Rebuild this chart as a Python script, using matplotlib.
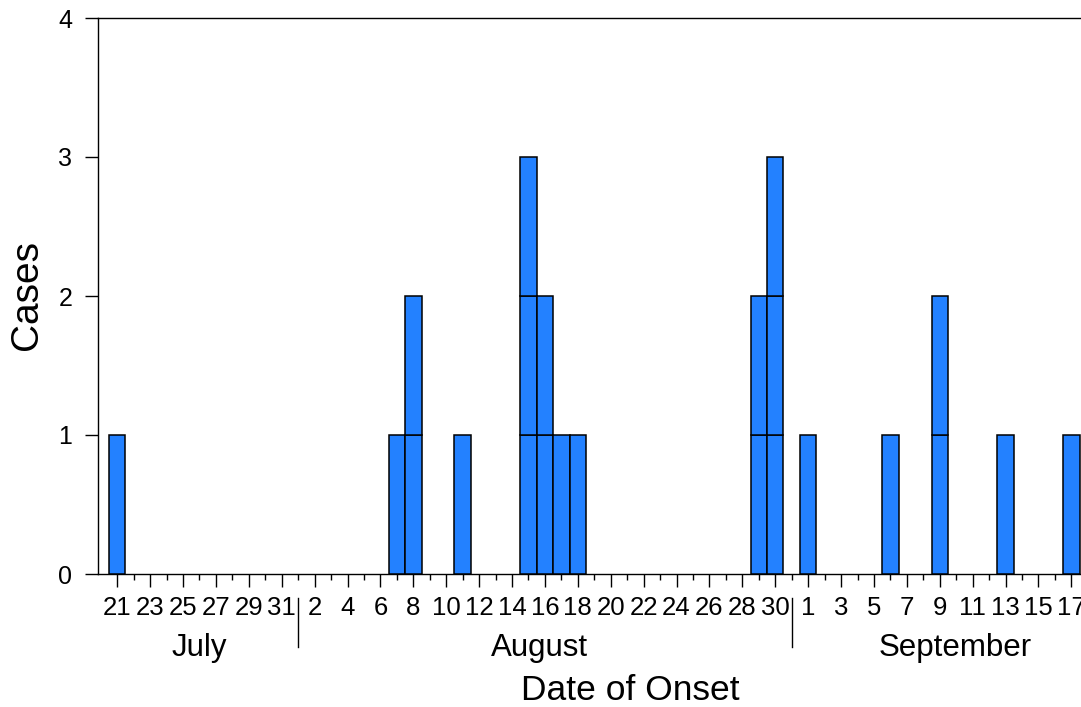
import numpy as np
import pandas as pd
import matplotlib
matplotlib.use("Agg")
import matplotlib.pyplot as plt
import matplotlib.dates as mdates

plt.rcParams['font.family'] = ['Liberation Sans', 'DejaVu Sans']

# --- data: onset date -> number of cases ---
onset_dates = pd.to_datetime([
    "2000-07-21", "2000-08-07", "2000-08-08", "2000-08-11", "2000-08-15",
    "2000-08-16", "2000-08-17", "2000-08-18", "2000-08-29", "2000-08-30",
    "2000-09-01", "2000-09-06", "2000-09-09", "2000-09-13", "2000-09-17",
])
cases = [1, 1, 2, 1, 3, 2, 1, 1, 2, 3, 1, 1, 2, 1, 1]

# labelled days on the x axis
july_days = [21, 23, 25, 27, 29, 31]
aug_days = [2, 4, 6, 8, 10, 12, 14, 16, 18, 20, 22, 24, 26, 28, 30]
sep_days = [1, 3, 5, 7, 9, 11, 13, 15, 17]
month_names = ["July", "August", "September"]
month_centers = [pd.Timestamp("2000-07-26 00:00"), pd.Timestamp("2000-08-15 16:00"),
                 pd.Timestamp("2000-09-09 22:00")]
month_breaks = [pd.Timestamp("2000-08-01 00:00"), pd.Timestamp("2000-08-31 01:00")]

bar_color = "#2381ff"

fig = plt.figure(figsize=(10.81, 7.07), dpi=100)
ax = fig.add_axes([98 / 1081, 133 / 707, 983 / 1081, 556 / 707])

# each case drawn as its own box
for d, n in zip(onset_dates, cases):
    for k in range(n):
        ax.bar(d, 1, bottom=k, width=1.0, color=bar_color,
               edgecolor="black", linewidth=1.1, zorder=3)

ax.set_ylim(0, 4)
ax.set_yticks([0, 1, 2, 3, 4])
ax.set_xlim(pd.Timestamp("2000-07-19 20:00"), pd.Timestamp("2000-09-17 14:00"))

major = ([pd.Timestamp(2000, 7, d) for d in july_days] +
         [pd.Timestamp(2000, 8, d) for d in aug_days] +
         [pd.Timestamp(2000, 9, d) for d in sep_days])
major_lbl = [str(d) for d in july_days + aug_days + sep_days]
ax.set_xticks(major)
ax.set_xticklabels(major_lbl)
ax.set_xticks(pd.date_range("2000-07-21", "2000-09-17", freq="D"), minor=True)
ax.xaxis.set_minor_formatter(matplotlib.ticker.NullFormatter())

ax.tick_params(axis="x", which="major", length=9, width=1, pad=7, labelsize=18.5)
ax.tick_params(axis="x", which="minor", length=4.5, width=1)
ax.tick_params(axis="y", length=9.5, width=1, pad=9, labelsize=18)

ax.spines["right"].set_visible(False)
for s in ["left", "top", "bottom"]:
    ax.spines[s].set_linewidth(1)

trans = ax.get_xaxis_transform()
for xb in month_breaks:
    ax.plot([xb, xb], [-0.043, -0.131], color="black", lw=1,
            transform=trans, clip_on=False)
for xc, name in zip(month_centers, month_names):
    ax.text(xc, -0.133, name, transform=trans, ha="center", va="center",
            fontsize=22.5)

fig.text(630 / 1081, 1 - 690 / 707, "Date of Onset", ha="center", va="center",
         fontsize=25.5)
fig.text(27 / 1081, 1 - 295 / 707, "Cases", ha="center", va="center",
         rotation=90, fontsize=28)

fig.savefig("out.png", dpi=100)
